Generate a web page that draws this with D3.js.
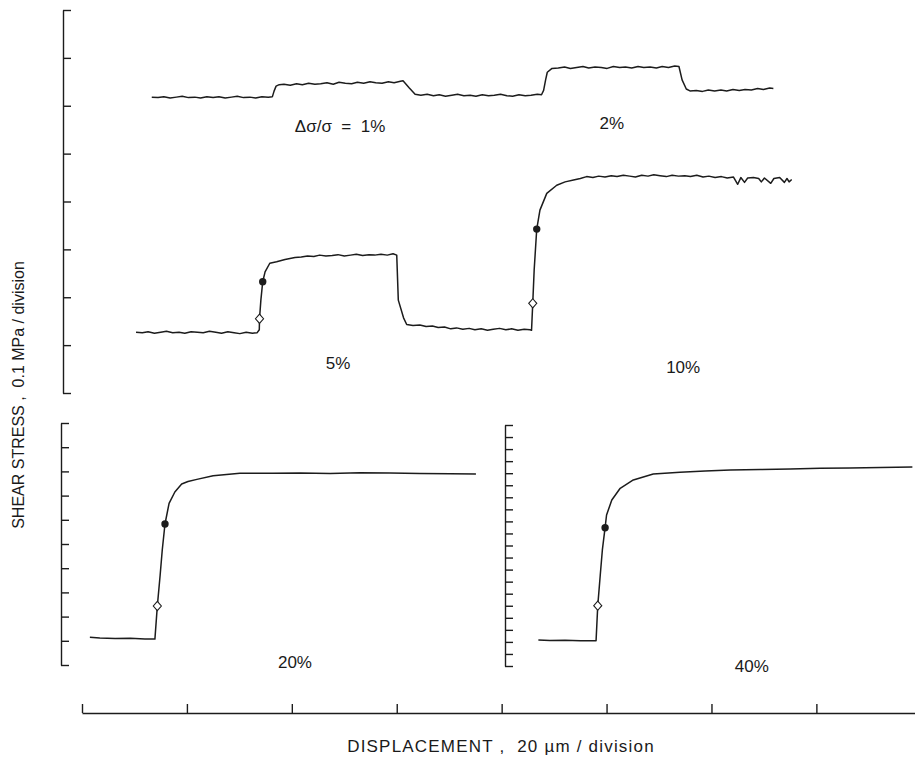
<!DOCTYPE html>
<html>
<head>
<meta charset="utf-8">
<script src="https://cdn.jsdelivr.net/npm/d3@7"></script>
<style>
  html, body { margin: 0; padding: 0; background: #fff; }
  svg text { font-family: "Liberation Sans", Arial, Helvetica, sans-serif; fill: #1a1a1a; white-space: pre; }
</style>
</head>
<body>
<svg id="chart" width="915" height="759"></svg>
<script>
// Displacement in µm, shear stress in kPa (0.1 MPa = 100 kPa per division).

// Upper panel: trace for normal-stress steps of 1 % and 2 %
const traceSmallX = [13.3, 14.5, 15.6, 16.8, 18.0, 19.1, 20.3, 21.5, 22.6, 23.8, 25.0, 26.1, 27.3, 28.5, 29.6, 30.8, 32.0, 33.1, 34.3, 35.5, 36.3,
  36.6, 37.0, 37.6,
  38.5, 39.7, 40.9, 42.0, 43.2, 44.4, 45.5, 46.7, 47.9, 49.0, 50.2, 51.4, 52.5, 53.7, 54.9, 56.0, 57.2, 58.4, 59.5, 60.7, 61.2,
  62.4, 63.5,
  64.6, 65.8, 67.0, 68.1, 69.3, 70.5, 71.6, 72.8, 74.0, 75.1, 76.3, 77.5, 78.6, 79.8, 81.0, 82.1, 83.3, 84.5, 85.6, 86.8, 87.6,
  88.0, 88.4, 88.7, 89.6,
  90.8, 92.0, 93.1, 94.3, 95.5, 96.6, 97.8, 99.0, 100.1, 101.3, 102.5, 103.6, 104.8, 106.0, 107.1, 108.3, 109.5, 110.6, 111.8, 113.0, 113.8,
  114.4, 115.2, 115.9,
  117.1, 118.3, 119.4, 120.6, 121.8, 122.9, 124.1, 125.3, 126.4, 127.6, 128.8, 129.9, 131.1, 131.8];
const traceSmallY = [618, 617, 619, 616, 618, 620, 617, 618, 616, 619, 617, 619, 616, 618, 620, 617, 618, 616, 619, 618, 619,
  630, 641, 644,
  645, 643, 646, 644, 647, 645, 646, 648, 645, 649, 647, 646, 649, 647, 650, 648, 647, 650, 648, 651, 652,
  637, 624,
  622, 624, 621, 623, 620, 622, 624, 621, 622, 620, 623, 621, 622, 624, 621, 620, 623, 621, 622, 624, 623,
  632, 655, 670, 678,
  679, 681, 678, 680, 682, 679, 681, 680, 678, 682, 680, 681, 679, 682, 680, 681, 679, 682, 680, 683, 682,
  654, 635, 631,
  632, 630, 633, 631, 633, 631, 634, 632, 634, 633, 636, 634, 637, 636];

// Upper panel: trace for normal-stress steps of 5 % and 10 %
const traceLargeX = [10.3, 11.5, 12.6, 13.8, 15.0, 16.1, 17.3, 18.5, 19.6, 20.8, 22.0, 23.1, 24.3, 25.5, 26.6, 27.8, 29.0, 30.1, 31.3, 32.5, 33.4, 33.8,
  33.84, 34.1, 34.45, 34.9, 35.8, 37.1, 38.7, 40.6,
  41.8, 43.0, 44.2, 45.3, 46.5, 47.7, 48.8, 50.0, 51.2, 52.3, 53.5, 54.7, 55.8, 57.0, 58.2, 59.3,
  60.0, 60.3, 61.3, 61.9,
  63.1, 64.4, 65.6, 66.8, 67.9, 69.1, 70.3, 71.4, 72.6, 73.8, 74.9, 76.1, 77.3, 78.4, 79.6, 80.8, 81.9, 83.1, 84.3, 85.4, 85.7,
  85.93, 86.2, 86.69, 87.3, 88.6, 90.5, 92.1, 93.7,
  95.0, 96.2, 97.4, 98.5, 99.7, 100.9, 102.0, 103.2, 104.4, 105.5, 106.7, 107.9, 109.0, 110.2, 111.4, 112.5, 113.7, 114.9, 116.0, 117.2, 118.4, 119.5, 120.7, 121.9, 123.0,
  124.2, 125.0, 125.6, 126.3, 126.9, 128.0, 129.0, 129.5, 130.1, 131.3, 131.9, 133.0, 133.9, 134.4, 134.8, 135.3];
const traceLargeY = [127, 126, 128, 125, 127, 129, 126, 127, 125, 128, 127, 126, 129, 127, 125, 128, 126, 124, 127, 125, 126, 132,
  155.1, 194, 232.4, 253, 271, 274, 279, 283,
  284, 286, 285, 288, 286, 287, 289, 286, 288, 290, 287, 289, 288, 290, 288, 291,
  288, 194, 157, 143,
  141, 142, 139, 140, 137, 138, 134, 136, 133, 135, 132, 134, 131, 133, 135, 132, 134, 131, 133, 132, 131,
  187.3, 257, 342.4, 382, 417, 434, 441, 445,
  448, 452, 450, 453, 451, 454, 452, 455, 453, 451, 455, 453, 456, 454, 452, 455, 453, 454, 452, 455, 451, 453, 450, 452, 449,
  451, 436, 450, 440, 449, 450, 448, 441, 449, 438, 448, 450, 440, 448, 441, 446];

// Lower-left panel: 20 % step
const trace20X = [1.5, 3.4, 6.3, 9.2, 12.0, 13.9, 14.36, 14.9, 15.3, 15.82, 16.6, 17.7, 19.0, 20.2, 21.9, 25.0, 30.1, 36.4, 41.6, 47.3, 53.0, 58.7, 64.4, 70.2, 75.1];
const trace20Y = [115, 112, 110, 111, 107, 107, 243.8, 372, 475, 582.6, 668, 715, 748, 758, 767, 782, 792, 792, 793, 791, 794, 793, 791, 790, 789];

// Lower-right panel: 40 % step
const trace40X = [87.0, 89.2, 92.1, 95.0, 98.0, 98.32, 98.8, 99.2, 99.72, 100.0, 101.0, 102.6, 105.1, 108.9, 114.0, 118.8, 123.6, 129.3, 135.0, 140.7, 146.4, 152.2, 158.3];
const trace40Y = [216, 212, 214, 209, 210, 500.4, 755, 963, 1147.8, 1253, 1378, 1475, 1544, 1593, 1608, 1618, 1627, 1631, 1635, 1641, 1643, 1647, 1652];

// Marked points on each rising limb: [panel, x µm, stress kPa]
const diamondPoints = [["top", 33.84, 155.1], ["top", 85.93, 187.3], ["p20", 14.36, 243.8], ["p40", 98.32, 500.4]];
const circlePoints = [["top", 34.45, 232.4], ["top", 86.69, 342.4], ["p20", 15.82, 582.6], ["p40", 99.72, 1147.8]];

// Step-size labels: [panel, text, x µm, stress kPa]
const stepLabels = [
  ["top", "\u0394\u03c3/\u03c3  =  1%", 49.2, 545],
  ["top", "2%", 101.0, 551],
  ["top", "5%", 48.8, 50],
  ["top", "10%", 114.6, 42],
  ["p20", "20%", 40.6, -12],
  ["p40", "40%", 127.7, -50]
];

// Axis ticks
const xTicks = [0, 20, 40, 60, 80, 100, 120, 140];
const xDomain = [0, 158.8];
const yTicksTop = d3.range(0, 801, 100);
const yTicks20 = d3.range(0, 1001, 100);
const yTicks40 = d3.range(0, 2001, 100);

const xLabel = "DISPLACEMENT ,  20 \u00b5m / division";
const yLabel = "SHEAR STRESS ,  0.1 MPa / division";

const svg = d3.select("#chart");
const ink = "#1c1c1c";

const x = d3.scaleLinear().domain(xDomain).range([82, 915]);

const panels = {
  top: { axisX: 63, y: d3.scaleLinear().domain([0, 800]).range([393, 10]), ticks: yTicksTop },
  p20: { axisX: 61, y: d3.scaleLinear().domain([0, 1000]).range([665, 423]), ticks: yTicks20 },
  p40: { axisX: 505, y: d3.scaleLinear().domain([0, 2000]).range([666, 425]), ticks: yTicks40 }
};

// Vertical stress axes, ticks pointing into the plot
Object.values(panels).forEach(p => {
  const g = svg.append("g").attr("transform", `translate(${p.axisX},0)`)
    .call(d3.axisRight(p.y).tickValues(p.ticks).tickSize(8).tickSizeOuter(0).tickFormat(""));
  g.select(".domain").attr("stroke", ink).attr("stroke-width", 1.4);
  g.selectAll(".tick line").attr("stroke", ink).attr("stroke-width", 1.4);
});

// Displacement axis, ticks pointing up
const gx = svg.append("g").attr("transform", "translate(0,713)")
  .call(d3.axisTop(x).tickValues(xTicks).tickSize(9).tickSizeOuter(0).tickFormat(""));
gx.select(".domain").attr("stroke", ink).attr("stroke-width", 1.4);
gx.selectAll(".tick line").attr("stroke", ink).attr("stroke-width", 1.4);

// Traces
const traces = [
  ["top", traceSmallX, traceSmallY],
  ["top", traceLargeX, traceLargeY],
  ["p20", trace20X, trace20Y],
  ["p40", trace40X, trace40Y]
];
traces.forEach(([pid, xs, ys]) => {
  const p = panels[pid];
  const line = d3.line().x(d => x(d[0])).y(d => p.y(d[1]));
  svg.append("path")
    .datum(xs.map((v, i) => [v, ys[i]]))
    .attr("d", line)
    .attr("fill", "none")
    .attr("stroke", ink)
    .attr("stroke-width", 1.5)
    .attr("stroke-linejoin", "round");
});

// Open diamond markers: a slightly squat rhombus
const rhombus = {
  draw(ctx, size) {
    const h = Math.sqrt(size) / 2, w = h * 0.88;
    ctx.moveTo(0, -h); ctx.lineTo(w, 0); ctx.lineTo(0, h); ctx.lineTo(-w, 0); ctx.closePath();
  }
};
svg.selectAll("path.diamond").data(diamondPoints).join("path")
  .attr("class", "diamond")
  .attr("d", d3.symbol().type(rhombus).size(84))
  .attr("transform", d => `translate(${x(d[1])},${panels[d[0]].y(d[2])})`)
  .attr("fill", "#fff").attr("stroke", ink).attr("stroke-width", 1.1);

// Filled circle markers
svg.selectAll("circle.mark").data(circlePoints).join("circle")
  .attr("class", "mark")
  .attr("cx", d => x(d[1]))
  .attr("cy", d => panels[d[0]].y(d[2]))
  .attr("r", 3.7)
  .attr("fill", ink);

// Step labels
svg.selectAll("text.step").data(stepLabels).join("text")
  .attr("class", "step")
  .attr("x", d => x(d[2]))
  .attr("y", d => panels[d[0]].y(d[3]))
  .attr("text-anchor", "middle")
  .attr("font-size", 17)
  .text(d => d[1]);

// Axis titles
svg.append("text")
  .attr("x", 501).attr("y", 752)
  .attr("text-anchor", "middle")
  .attr("font-size", 17)
  .attr("letter-spacing", 1.2)
  .text(xLabel);

svg.append("text")
  .attr("transform", "translate(24,395) rotate(-90)")
  .attr("text-anchor", "middle")
  .attr("font-size", 16)
  .text(yLabel);
</script>
</body>
</html>
